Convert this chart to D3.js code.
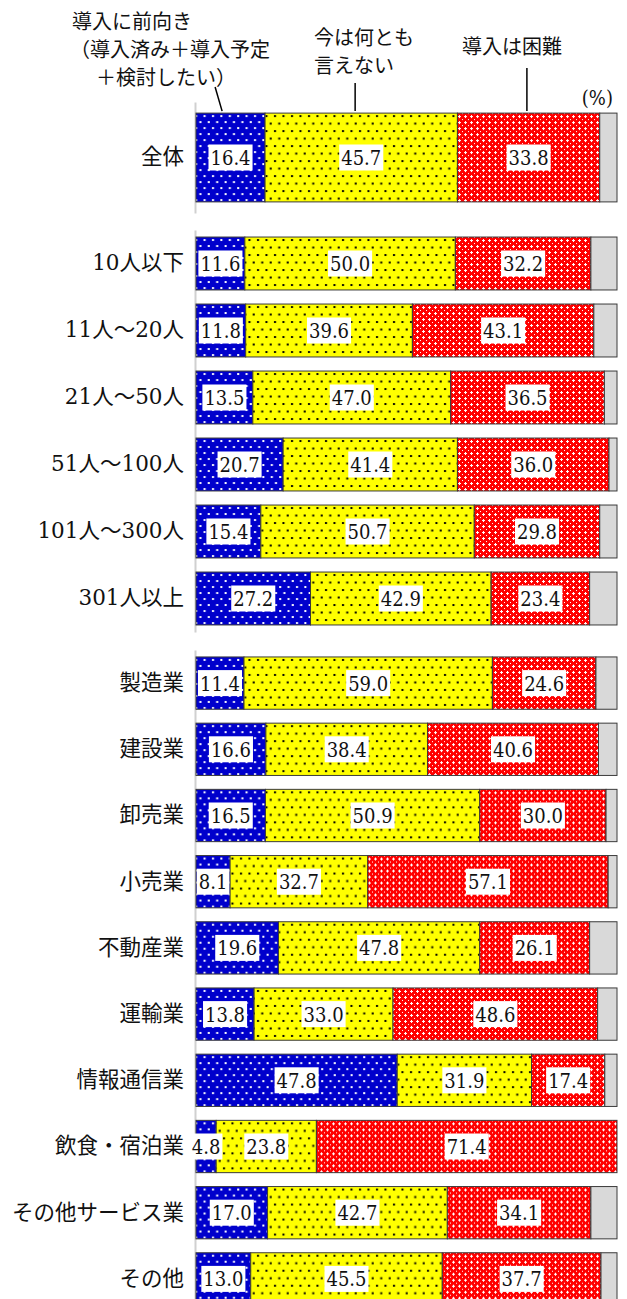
<!DOCTYPE html>
<html>
<head>
<meta charset="utf-8">
<script src="https://cdn.jsdelivr.net/npm/d3@7"></script>
<style>
  html, body { margin: 0; padding: 0; background: #fff; }
  svg { display: block; }
  .num { font-family: "DejaVu Serif Condensed", "DejaVu Serif", serif; }
  .cat { font-family: "DejaVu Serif", "Noto Sans CJK JP", serif; }
</style>
</head>
<body>
<svg id="chart" width="627" height="1299"></svg>
<script>
// Survey answers by company size and industry (%)
const categories = ["全体", "10人以下", "11人～20人", "21人～50人", "51人～100人", "101人～300人", "301人以上",
  "製造業", "建設業", "卸売業", "小売業", "不動産業", "運輸業", "情報通信業", "飲食・宿泊業", "その他サービス業", "その他"];
const groups = [0, 1, 1, 1, 1, 1, 1, 2, 2, 2, 2, 2, 2, 2, 2, 2, 2];
const positive = [16.4, 11.6, 11.8, 13.5, 20.7, 15.4, 27.2, 11.4, 16.6, 16.5, 8.1, 19.6, 13.8, 47.8, 4.8, 17.0, 13.0];
const undecided = [45.7, 50.0, 39.6, 47.0, 41.4, 50.7, 42.9, 59.0, 38.4, 50.9, 32.7, 47.8, 33.0, 31.9, 23.8, 42.7, 45.5];
const difficult = [33.8, 32.2, 43.1, 36.5, 36.0, 29.8, 23.4, 24.6, 40.6, 30.0, 57.1, 26.1, 48.6, 17.4, 71.4, 34.1, 37.7];
const seriesNames = ["導入に前向き（導入済み＋導入予定＋検討したい）", "今は何とも言えない", "導入は困難", "無回答"];
const headerLines = [
  ["導入に前向き", "（導入済み＋導入予定", "＋検討したい）"],
  ["今は何とも", "言えない"],
  ["導入は困難"]
];
const unitLabel = "(%)";

const svg = d3.select("#chart");
const JFONT = "'Noto Sans CJK JP', sans-serif";

const x = d3.scaleLinear().domain([0, 100]).range([196, 617]);

// one band scale per block of rows
const groupRanges = [[102, 213], [230, 632], [650, 1312]];
const yScales = groupRanges.map((r, gi) => {
  const dom = categories.filter((c, i) => groups[i] === gi);
  const s = d3.scaleBand().domain(dom).range(r);
  if (gi === 0) s.paddingInner(0).paddingOuter(0.125);
  else s.paddingInner(0.21).paddingOuter(0.105);
  return s;
});

// patterns
const defs = svg.append("defs");
const pBlue = defs.append("pattern").attr("id", "pBlue").attr("patternUnits", "userSpaceOnUse")
  .attr("width", 8.4).attr("height", 12);
pBlue.append("rect").attr("width", 8.4).attr("height", 12).attr("fill", "#0000cc");
pBlue.append("rect").attr("x", 2).attr("y", 2).attr("width", 2).attr("height", 2).attr("fill", "#ffffff");
pBlue.append("rect").attr("x", 6.2).attr("y", 8).attr("width", 2).attr("height", 2).attr("fill", "#ffffff");

const pYellow = defs.append("pattern").attr("id", "pYellow").attr("patternUnits", "userSpaceOnUse")
  .attr("width", 8.5).attr("height", 15);
pYellow.append("rect").attr("width", 8.5).attr("height", 15).attr("fill", "#ffff00");
pYellow.append("rect").attr("x", 2).attr("y", 2).attr("width", 2).attr("height", 2).attr("fill", "#000");
pYellow.append("rect").attr("x", 6.25).attr("y", 9.5).attr("width", 2).attr("height", 2).attr("fill", "#000");

const pRed = defs.append("pattern").attr("id", "pRed").attr("patternUnits", "userSpaceOnUse")
  .attr("width", 6).attr("height", 6);
pRed.append("rect").attr("width", 6).attr("height", 6).attr("fill", "#ff0000");
pRed.append("rect").attr("x", 3).attr("y", 2).attr("width", 1).attr("height", 3).attr("fill", "#ffffff");
pRed.append("rect").attr("x", 2).attr("y", 3).attr("width", 3).attr("height", 1).attr("fill", "#ffffff");
pRed.append("rect").attr("x", 0).attr("y", 0).attr("width", 1).attr("height", 1).attr("fill", "#ffffff");

const fills = ["url(#pBlue)", "url(#pYellow)", "url(#pRed)", "#d9d9d9"];

// category axes (one light vertical rule per block)
yScales.forEach(s => {
  const g = svg.append("g").attr("transform", `translate(195,0)`)
    .call(d3.axisLeft(s).tickSize(0).tickPadding(11));
  g.attr("font-family", null).attr("font-size", null);
  g.select(".domain").attr("stroke", "#d0d0d0").attr("stroke-width", 2);
  g.selectAll("text").attr("class", "cat").style("font-size", "21.5px").attr("fill", "#111");
});

// stacked rows
const rows = categories.map((c, i) => {
  const vals = [positive[i], undecided[i], difficult[i]];
  const rest = Math.max(0, +(100 - d3.sum(vals)).toFixed(1));
  vals.push(rest);
  let cum = 0;
  const segs = vals.map((v, k) => { const s = { k, v, x0: cum, x1: cum + v }; cum += v; return s; });
  return { c, g: groups[i], segs };
});

const rowG = svg.append("g").selectAll("g").data(rows).join("g")
  .attr("transform", d => `translate(0,${yScales[d.g](d.c)})`);

rowG.each(function(d) {
  const bw = yScales[d.g].bandwidth();
  const g = d3.select(this);
  g.selectAll("rect.seg").data(d.segs.filter(s => s.v > 0)).join("rect")
    .attr("class", "seg")
    .attr("x", s => x(s.x0))
    .attr("y", 0)
    .attr("width", s => x(s.x1) - x(s.x0))
    .attr("height", bw)
    .attr("fill", s => fills[s.k])
    .attr("stroke", "#3a3a3a")
    .attr("stroke-width", 1);

  // value labels on white boxes
  const lab = g.selectAll("g.lab").data(d.segs.filter(s => s.k < 3)).join("g").attr("class", "lab");
  lab.append("text")
    .attr("class", "num")
    .attr("x", s => x((s.x0 + s.x1) / 2))
    .attr("y", bw / 2 + 7.5)
    .attr("text-anchor", "middle")
    .style("font-size", "20px")
    .attr("fill", "#111")
    .text(s => s.v.toFixed(1));
  lab.each(function(s) {
    const t = d3.select(this).select("text");
    const w = t.node().getComputedTextLength();
    d3.select(this).insert("rect", "text")
      .attr("x", x((s.x0 + s.x1) / 2) - w / 2 - 2)
      .attr("y", bw / 2 - 13)
      .attr("width", w + 4)
      .attr("height", 26)
      .attr("fill", "#fff");
  });
});

// series headers with leader lines
const leaderAt = [6.2, 37.8, 78.6];
const header = svg.append("g").style("font-family", JFONT).style("font-size", "20px").attr("fill", "#111");
const headerPos = [
  { xs: [72, 70, 96], ys: [29, 57, 85] },
  { xs: [314, 314], ys: [45, 73] },
  { xs: [462], ys: [54] }
];
headerLines.forEach((lines, i) => {
  lines.forEach((ln, j) => {
    header.append("text").attr("x", headerPos[i].xs[j]).attr("y", headerPos[i].ys[j]).text(ln);
  });
});
const barTop = yScales[0](categories[0]);
const leaders = [
  { x1: x(leaderAt[0]) - 7, y1: 87 },
  { x1: x(leaderAt[1]), y1: 83 },
  { x1: x(leaderAt[2]), y1: 68 }
];
leaders.forEach((l, i) => {
  svg.append("line")
    .attr("x1", l.x1).attr("y1", l.y1)
    .attr("x2", x(leaderAt[i])).attr("y2", barTop - 2)
    .attr("stroke", "#000").attr("stroke-width", 1.5);
});

svg.append("text")
  .attr("class", "num")
  .attr("x", x(100) - 4).attr("y", 105)
  .attr("text-anchor", "end")
  .style("font-size", "20px").attr("fill", "#111")
  .text(unitLabel);
</script>
</body>
</html>
